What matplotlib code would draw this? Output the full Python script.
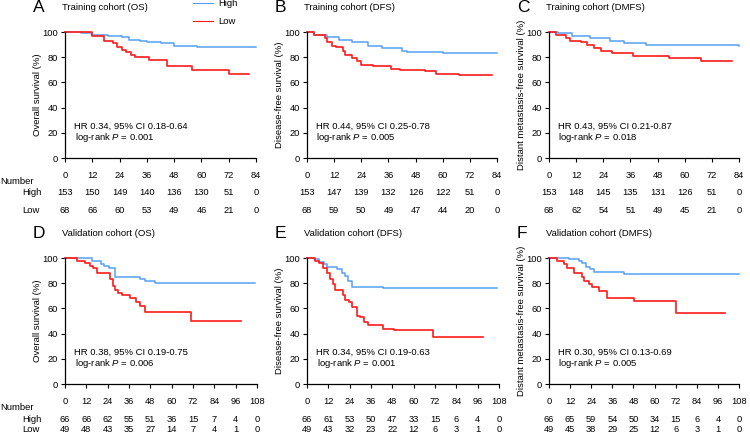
import matplotlib.pyplot as plt

plt.rcParams['font.family'] = ['Liberation Sans', 'DejaVu Sans']
plt.rcParams['mathtext.fontset'] = 'custom'
plt.rcParams['mathtext.rm'] = 'Liberation Sans'
plt.rcParams['mathtext.it'] = 'Liberation Sans:italic'

# --- datos (meses, supervivencia %) ---
A_high_t = [0, 7, 12, 19, 25, 28, 33, 36, 42, 48, 58, 84]
A_high_s = [100, 99, 98, 97, 96, 94, 93, 92, 91, 89, 88, 88]
A_low_t = [0, 12, 17, 21, 23, 25, 27, 29, 31, 37, 45, 56, 72, 81]
A_low_s = [100, 97, 93, 91, 88, 86, 84, 82, 80, 78, 73, 70, 67, 67]

B_high_t = [0, 3, 9, 14, 20, 27, 33, 42, 44, 60, 84]
B_high_s = [100, 98, 96, 94, 92, 89, 87, 85, 84, 83, 83]
B_low_t = [0, 3, 8, 9, 11, 13, 16, 17, 20, 22, 24, 29, 37, 41, 52, 57, 67, 82]
B_low_s = [100, 98, 95, 92, 89, 88, 85, 82, 79, 77, 74, 73, 71, 70, 69, 67, 65.5, 65.5]

C_high_t = [0, 4, 10, 18, 27, 33, 43, 84]
C_high_s = [100, 99, 97, 95, 93, 91, 89.5, 89]
C_low_t = [0, 3, 7.5, 9.5, 14, 17, 20, 23, 28, 37, 53, 67, 81]
C_low_s = [100, 98, 95, 93, 92, 90, 87, 85, 83, 81, 79, 77, 77]

D_high_t = [0, 15, 20.5, 22, 25, 28, 42, 45, 50.5, 107]
D_high_s = [100, 98, 95, 94, 92, 85, 83, 82, 80, 80]
D_low_t = [0, 6.5, 11, 14, 16, 18, 25.5, 27, 28, 30, 32, 36.5, 40, 42, 45, 71, 99]
D_low_s = [100, 98, 96, 94, 92, 88, 83, 78, 75, 72, 71, 68, 65, 62, 57, 50, 50]

E_high_t = [0, 4, 6.5, 9.5, 11, 17, 19.5, 21.5, 23, 25.5, 42.5, 107]
E_high_s = [100, 99, 97, 95, 93, 91, 88, 86, 82, 77, 76, 76]
E_low_t = [0, 4.5, 7, 9, 11, 13, 14.5, 16, 20, 21.5, 23.5, 25.5, 28, 30, 32,
           34.5, 42.5, 49, 71, 99]
E_low_s = [100, 98, 96, 92, 88, 83, 79, 75, 71, 67, 65, 61, 54, 53, 49,
           47, 44, 43, 37, 37]

F_high_t = [0, 11.5, 17, 19, 21, 23.5, 25.5, 42.5, 108]
F_high_s = [100, 99, 98, 96, 93, 91, 89, 87.5, 87.5]
F_low_t = [0, 4.5, 8.5, 10, 14, 19, 20, 22.5, 24.5, 28.5, 33, 48.5, 72, 100]
F_low_s = [100, 98, 95, 92, 88, 85, 82, 79, 77, 74, 68, 65.5, 56, 56]

# número en riesgo
A_risk_high = [153, 150, 149, 140, 136, 130, 51, 0]
A_risk_low = [68, 66, 60, 53, 49, 46, 21, 0]
B_risk_high = [153, 147, 139, 132, 126, 122, 51, 0]
B_risk_low = [68, 59, 50, 49, 47, 44, 20, 0]
C_risk_high = [153, 148, 145, 135, 131, 126, 51, 0]
C_risk_low = [68, 62, 54, 51, 49, 45, 21, 0]
D_risk_high = [66, 66, 62, 55, 51, 36, 15, 7, 4, 0]
D_risk_low = [49, 48, 43, 35, 27, 14, 7, 4, 1, 0]
E_risk_high = [66, 61, 53, 50, 47, 33, 15, 6, 4, 0]
E_risk_low = [49, 43, 32, 23, 22, 12, 6, 3, 1, 0]
F_risk_high = [66, 65, 59, 54, 50, 34, 15, 6, 4, 0]
F_risk_low = [49, 45, 38, 29, 25, 12, 6, 3, 1, 0]

letters = ['A', 'B', 'C', 'D', 'E', 'F']
titles = ['Training cohort (OS)', 'Training cohort (DFS)', 'Training cohort (DMFS)',
          'Validation cohort (OS)', 'Validation cohort (DFS)', 'Validation cohort (DMFS)']
ylabels = ['Overall survival (%)', 'Disease-free survival (%)',
           'Distant metastasis-free survival (%)'] * 2
hr_texts = ['HR 0.34, 95% CI 0.18-0.64', 'HR 0.44, 95% CI 0.25-0.78',
            'HR 0.43, 95% CI 0.21-0.87', 'HR 0.38, 95% CI 0.19-0.75',
            'HR 0.34, 95% CI 0.19-0.63', 'HR 0.30, 95% CI 0.13-0.69']
p_values = ['0.001', '0.005', '0.018', '0.006', '0.001', '0.005']
x_max = [84, 84, 84, 108, 108, 108]

curves = [(A_high_t, A_high_s, A_low_t, A_low_s), (B_high_t, B_high_s, B_low_t, B_low_s),
          (C_high_t, C_high_s, C_low_t, C_low_s), (D_high_t, D_high_s, D_low_t, D_low_s),
          (E_high_t, E_high_s, E_low_t, E_low_s), (F_high_t, F_high_s, F_low_t, F_low_s)]
risks = [(A_risk_high, A_risk_low), (B_risk_high, B_risk_low), (C_risk_high, C_risk_low),
         (D_risk_high, D_risk_low), (E_risk_high, E_risk_low), (F_risk_high, F_risk_low)]

BLUE = '#55A0F5'
RED = '#FF1A1A'
W, H = 750, 443
FS = 6.8

fig = plt.figure(figsize=(7.5, 4.43), dpi=100)

# posiciones en píxeles: (izquierda, derecha) y (arriba, abajo)
col_px = [(65, 256), (307, 497), (549, 739)]
col_px2 = [(65, 257), (307, 499), (549, 739)]
row_px = [(32, 158), (258, 384)]
# filas de la tabla: Number, High, Low
table_y = [(181.7, 192.5, 210), (408, 420, 430)]

for i in range(6):
    r, c = divmod(i, 3)
    l, rr = (col_px if r == 0 else col_px2)[c]
    top, bot = row_px[r]
    ax = fig.add_axes([l / W, 1 - bot / H, (rr - l) / W, (bot - top) / H])
    ht, hs, lt, ls = curves[i]
    ax.step(ht, hs, where='post', color=BLUE, lw=1.1, clip_on=False)
    ax.step(lt, ls, where='post', color=RED, lw=1.2, clip_on=False)
    ax.set_xlim(0, x_max[i])
    ax.set_ylim(0, 100)
    ax.set_xticks(range(0, x_max[i] + 1, 12))
    ax.set_yticks(range(0, 101, 20))
    for s in ['top', 'right']:
        ax.spines[s].set_visible(False)
    for s in ['left', 'bottom']:
        ax.spines[s].set_linewidth(0.9)
    ax.tick_params(direction='out', length=3, width=0.8, labelsize=6.7, pad=2)
    ax.tick_params(axis='x', pad=6)
    ax.set_ylabel(ylabels[i], fontsize=FS, labelpad=0.5)

    ax.text(0.045, 0.25, hr_texts[i], transform=ax.transAxes, fontsize=FS, va='center')
    ax.text(0.05, 0.16, 'log-rank $\\it{P}$ = ' + p_values[i], transform=ax.transAxes,
            fontsize=FS, va='center')

    # letra y título del panel
    ty = top - 24
    fig.text((l - 32) / W, 1 - ty / H, letters[i], fontsize=12.5, va='center', ha='left')
    fig.text((l - 3) / W, 1 - ty / H, titles[i], fontsize=FS, va='center', ha='left')

    # número en riesgo
    ny, hy, ly = table_y[r]
    rh, rl = risks[i]
    xs = list(range(0, x_max[i] + 1, 12))
    for x, vh, vl in zip(xs, rh, rl):
        xf = (l + (rr - l) * x / x_max[i]) / W
        fig.text(xf, 1 - hy / H, str(vh), fontsize=6.7, ha='center', va='center')
        fig.text(xf, 1 - ly / H, str(vl), fontsize=6.7, ha='center', va='center')
    if c == 0:
        fig.text(0.0, 1 - ny / H, 'Number', fontsize=FS, ha='left', va='center')
        fig.text(22 / W, 1 - hy / H, 'High', fontsize=FS, ha='left', va='center')
        fig.text(22 / W, 1 - ly / H, 'Low', fontsize=FS, ha='left', va='center')

# leyenda
fig.add_artist(plt.Line2D([193 / W, 213 / W], [1 - 3 / H, 1 - 3 / H], color=BLUE, lw=0.8))
fig.add_artist(plt.Line2D([193 / W, 213 / W], [1 - 21 / H, 1 - 21 / H], color=RED, lw=0.8))
fig.text(218 / W, 1 - 3 / H, 'High', fontsize=FS, va='center', ha='left')
fig.text(218 / W, 1 - 21 / H, 'Low', fontsize=FS, va='center', ha='left')

fig.savefig('out.png', dpi=100)
